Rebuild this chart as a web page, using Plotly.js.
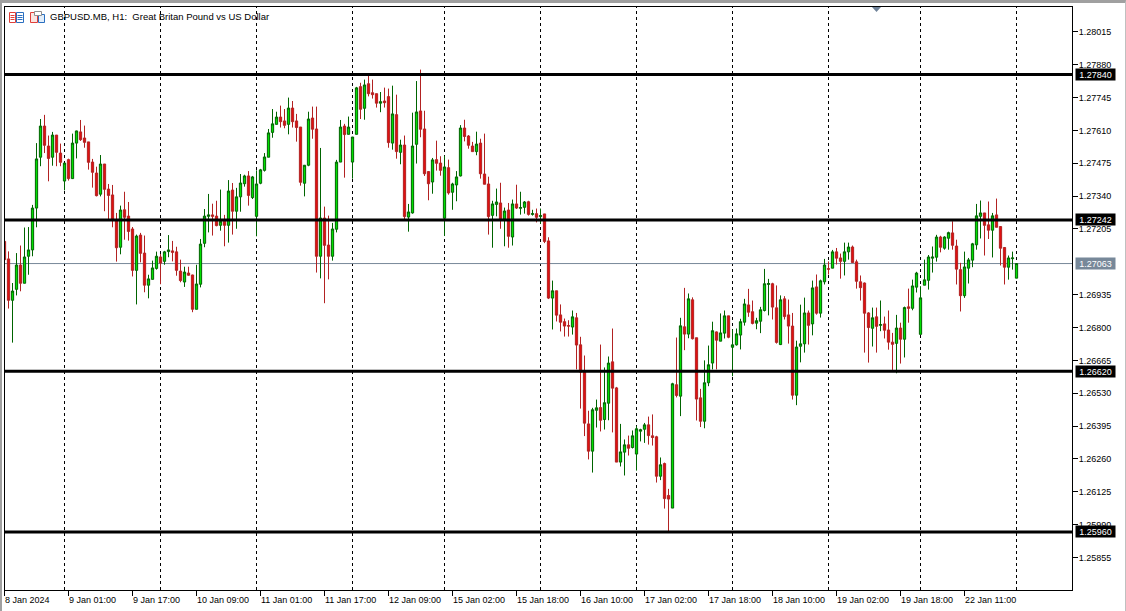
<!DOCTYPE html>
<html><head><meta charset="utf-8">
<script src="https://cdn.plot.ly/plotly-3.0.1.min.js"></script>
<style>html,body{margin:0;padding:0;background:#fff;overflow:hidden}#c{width:1126px;height:611px}
#f{position:absolute;left:0;top:0;width:1126px;height:611px;box-sizing:border-box;border-left:2px solid #a0a0a0;border-top:3px solid #a0a0a0;border-right:1px solid #c0c0c0;pointer-events:none}</style>
</head><body><div id="c"></div><div id="f"></div>
<script>
const opens=[1.27154,1.27082,1.26912,1.26957,1.27057,1.26982,1.27093,1.27119,1.27291,1.27500,
1.27628,1.27546,1.27500,1.27591,1.27517,1.27402,1.27490,1.27412,1.27558,1.27604,
1.27579,1.27563,1.27480,1.27435,1.27348,1.27472,1.27369,1.27345,1.27243,1.27130,
1.27284,1.27258,1.27205,1.27035,1.27180,1.27106,1.26974,1.26998,1.27043,1.27090,
1.27072,1.27112,1.27115,1.27111,1.27032,1.26987,1.27024,1.27016,1.26875,1.26978,
1.27146,1.27257,1.27263,1.27258,1.27220,1.27237,1.27220,1.27365,1.27278,1.27337,
1.27391,1.27423,1.27334,1.27257,1.27393,1.27446,1.27500,1.27602,1.27635,1.27665,
1.27649,1.27635,1.27702,1.27649,1.27624,1.27393,1.27467,1.27661,1.27616,1.27093,
1.27250,1.27139,1.27093,1.27204,1.27480,1.27628,1.27594,1.27480,1.27594,1.27790,
1.27701,1.27802,1.27765,1.27761,1.27722,1.27731,1.27749,1.27558,1.27675,1.27520,
1.27550,1.27254,1.27271,1.27553,1.27690,1.27616,1.27441,1.27398,1.27490,1.27476,
1.27249,1.27457,1.27356,1.27386,1.27423,1.27620,1.27587,1.27546,1.27523,1.27558,
1.27431,1.27390,1.27261,1.27306,1.27312,1.27246,1.27283,1.27172,1.27308,1.27290,
1.27294,1.27317,1.27265,1.27268,1.27256,1.27267,1.27156,1.26921,1.26951,1.26852,
1.26824,1.26808,1.26802,1.26840,1.26729,1.26617,1.26404,1.26292,1.26460,1.26471,
1.26422,1.26489,1.26659,1.26552,1.26247,1.26288,1.26318,1.26307,1.26280,1.26374,
1.26382,1.26400,1.26355,1.26351,1.26189,1.26241,1.26110,1.26058,1.26565,1.26518,
1.26803,1.26773,1.26914,1.26758,1.26511,1.26415,1.26573,1.26654,1.26782,1.26744,
1.26777,1.26848,1.26719,1.26729,1.26769,1.26822,1.26893,1.26865,1.26818,1.26826,
1.26870,1.26977,1.26980,1.26881,1.26730,1.26918,1.26852,1.26806,1.26522,1.26723,
1.26733,1.26860,1.26815,1.26967,1.26859,1.26988,1.27042,1.27044,1.27111,1.27086,
1.27072,1.27111,1.27131,1.27070,1.26988,1.26983,1.26860,1.26797,1.26844,1.26809,
1.26815,1.26790,1.26740,1.26735,1.26798,1.26752,1.26885,1.26879,1.26966,1.26772,
1.26974,1.26994,1.27085,1.27089,1.27172,1.27126,1.27167,1.27189,1.27135,1.27038,
1.26931,1.27044,1.27077,1.27140,1.27257,1.27271,1.27222,1.27200,1.27263,1.27215,1.27129,1.27048,1.27083,1.27003];
const closes=[1.27079,1.26912,1.26950,1.27057,1.26982,1.27090,1.27119,1.27291,1.27493,1.27628,
1.27549,1.27495,1.27591,1.27520,1.27479,1.27476,1.27412,1.27558,1.27608,1.27572,
1.27561,1.27479,1.27438,1.27342,1.27472,1.27368,1.27343,1.27243,1.27128,1.27283,
1.27253,1.27195,1.27035,1.27176,1.27105,1.26974,1.27000,1.27045,1.27093,1.27065,
1.27111,1.27119,1.27109,1.27035,1.26993,1.27028,1.27015,1.26875,1.26979,1.27143,
1.27258,1.27263,1.27257,1.27219,1.27237,1.27220,1.27361,1.27278,1.27337,1.27394,
1.27423,1.27343,1.27419,1.27390,1.27448,1.27501,1.27600,1.27637,1.27665,1.27646,
1.27631,1.27702,1.27646,1.27622,1.27397,1.27467,1.27657,1.27615,1.27093,1.27250,
1.27138,1.27093,1.27205,1.27480,1.27624,1.27593,1.27624,1.27583,1.27785,1.27697,
1.27797,1.27761,1.27757,1.27722,1.27728,1.27724,1.27560,1.27678,1.27523,1.27550,
1.27256,1.27275,1.27546,1.27686,1.27615,1.27432,1.27391,1.27489,1.27475,1.27446,
1.27460,1.27353,1.27390,1.27419,1.27620,1.27585,1.27549,1.27523,1.27554,1.27432,
1.27389,1.27256,1.27308,1.27316,1.27246,1.27279,1.27175,1.27308,1.27291,1.27293,
1.27316,1.27265,1.27268,1.27253,1.27260,1.27154,1.26921,1.26951,1.26851,1.26822,
1.26806,1.26806,1.26844,1.26728,1.26617,1.26407,1.26292,1.26462,1.26470,1.26419,
1.26491,1.26654,1.26551,1.26247,1.26289,1.26318,1.26304,1.26355,1.26384,1.26380,
1.26400,1.26356,1.26348,1.26189,1.26236,1.26097,1.26095,1.26569,1.26521,1.26807,
1.26773,1.26918,1.26754,1.26506,1.26415,1.26573,1.26647,1.26787,1.26748,1.26778,
1.26848,1.26760,1.26729,1.26774,1.26824,1.26897,1.26863,1.26817,1.26828,1.26873,
1.26980,1.26981,1.26884,1.26739,1.26914,1.26845,1.26806,1.26522,1.26720,1.26733,
1.26860,1.26809,1.26963,1.26859,1.26992,1.27057,1.27040,1.27111,1.27085,1.27072,
1.27111,1.27131,1.27067,1.26990,1.26964,1.26859,1.26800,1.26840,1.26805,1.26812,
1.26789,1.26740,1.26731,1.26798,1.26752,1.26882,1.26879,1.26971,1.27024,1.26922,
1.26996,1.27090,1.27090,1.27172,1.27130,1.27172,1.27190,1.27138,1.27040,1.26931,
1.27049,1.27078,1.27144,1.27259,1.27271,1.27220,1.27200,1.27259,1.27212,1.27126,1.27048,1.27086,1.27086,1.27063];
const highs=[1.27168,1.27113,1.26983,1.27106,1.27137,1.27211,1.27213,1.27304,1.27558,1.27657,
1.27674,1.27589,1.27604,1.27591,1.27556,1.27476,1.27494,1.27597,1.27609,1.27653,
1.27630,1.27563,1.27493,1.27461,1.27509,1.27472,1.27390,1.27386,1.27271,1.27301,
1.27358,1.27316,1.27213,1.27182,1.27189,1.27178,1.27017,1.27075,1.27112,1.27102,
1.27115,1.27180,1.27156,1.27132,1.27079,1.27050,1.27050,1.27017,1.27058,1.27164,
1.27287,1.27349,1.27309,1.27321,1.27367,1.27263,1.27406,1.27394,1.27374,1.27431,
1.27428,1.27443,1.27423,1.27446,1.27452,1.27517,1.27616,1.27698,1.27687,1.27712,
1.27698,1.27745,1.27731,1.27678,1.27624,1.27468,1.27687,1.27708,1.27708,1.27538,
1.27297,1.27260,1.27230,1.27489,1.27653,1.27637,1.27667,1.27583,1.27789,1.27806,
1.27819,1.27839,1.27819,1.27761,1.27768,1.27786,1.27782,1.27794,1.27757,1.27572,
1.27589,1.27308,1.27683,1.27813,1.27860,1.27691,1.27442,1.27497,1.27568,1.27504,
1.27506,1.27490,1.27395,1.27443,1.27632,1.27654,1.27591,1.27563,1.27605,1.27576,
1.27597,1.27420,1.27321,1.27371,1.27395,1.27293,1.27312,1.27326,1.27387,1.27358,
1.27320,1.27321,1.27284,1.27289,1.27289,1.27267,1.27171,1.26993,1.26951,1.26895,
1.26837,1.26830,1.26870,1.26860,1.26762,1.26685,1.26458,1.26470,1.26504,1.26730,
1.26636,1.26681,1.26796,1.26556,1.26404,1.26340,1.26356,1.26377,1.26395,1.26384,
1.26408,1.26434,1.26443,1.26355,1.26266,1.26245,1.26137,1.26573,1.26759,1.26840,
1.26963,1.26940,1.26924,1.26758,1.26548,1.26665,1.26726,1.26824,1.26784,1.26858,
1.26870,1.26848,1.26792,1.26796,1.26836,1.26918,1.26959,1.26911,1.26840,1.26885,
1.27041,1.27000,1.26984,1.26973,1.26932,1.26929,1.26915,1.26860,1.26746,1.26894,
1.26923,1.26870,1.26993,1.27018,1.26997,1.27082,1.27072,1.27119,1.27127,1.27104,
1.27149,1.27149,1.27137,1.27079,1.27014,1.26985,1.26863,1.26882,1.26882,1.26911,
1.26845,1.26870,1.26778,1.26852,1.26820,1.26886,1.26960,1.26997,1.27029,1.26970,
1.27079,1.27098,1.27133,1.27181,1.27177,1.27175,1.27194,1.27237,1.27161,1.27066,
1.27112,1.27086,1.27148,1.27308,1.27322,1.27271,1.27318,1.27271,1.27330,1.27216,1.27131,1.27096,1.27112,1.27064];
const lows=[1.27065,1.26878,1.26738,1.26932,1.26949,1.26982,1.27017,1.27093,1.27212,1.27463,
1.27517,1.27401,1.27465,1.27463,1.27463,1.27364,1.27404,1.27411,1.27495,1.27567,
1.27539,1.27449,1.27375,1.27339,1.27339,1.27278,1.27246,1.27212,1.27071,1.27101,
1.27161,1.27157,1.27010,1.26895,1.27068,1.26945,1.26920,1.26998,1.27038,1.26978,
1.27058,1.27089,1.27072,1.27013,1.26986,1.26967,1.27013,1.26863,1.26875,1.26965,
1.27130,1.27191,1.27178,1.27216,1.27198,1.27134,1.27149,1.27182,1.27206,1.27276,
1.27379,1.27301,1.27328,1.27175,1.27389,1.27441,1.27500,1.27580,1.27635,1.27622,
1.27619,1.27594,1.27622,1.27564,1.27383,1.27339,1.27463,1.27576,1.27026,1.27002,
1.26900,1.26998,1.27075,1.27191,1.27480,1.27416,1.27594,1.27412,1.27594,1.27657,
1.27654,1.27750,1.27741,1.27704,1.27685,1.27704,1.27539,1.27531,1.27494,1.27471,
1.27243,1.27194,1.27268,1.27474,1.27582,1.27423,1.27323,1.27350,1.27445,1.27424,
1.27176,1.27346,1.27284,1.27319,1.27421,1.27565,1.27535,1.27523,1.27508,1.27412,
1.27389,1.27182,1.27128,1.27257,1.27206,1.27134,1.27128,1.27137,1.27287,1.27264,
1.27268,1.27260,1.27260,1.27232,1.27226,1.27147,1.26917,1.26792,1.26825,1.26784,
1.26763,1.26763,1.26771,1.26628,1.26467,1.26354,1.26258,1.26204,1.26389,1.26373,
1.26381,1.26419,1.26369,1.26247,1.26229,1.26192,1.26274,1.26303,1.26212,1.26332,
1.26326,1.26319,1.26315,1.26163,1.26173,1.26056,1.25963,1.26058,1.26513,1.26436,
1.26707,1.26756,1.26751,1.26418,1.26391,1.26386,1.26559,1.26628,1.26628,1.26744,
1.26755,1.26756,1.26600,1.26726,1.26710,1.26808,1.26844,1.26813,1.26793,1.26777,
1.26866,1.26850,1.26833,1.26734,1.26728,1.26833,1.26734,1.26504,1.26481,1.26657,
1.26697,1.26730,1.26768,1.26853,1.26841,1.26977,1.27018,1.27044,1.27059,1.27001,
1.27014,1.27079,1.27066,1.26960,1.26911,1.26697,1.26656,1.26722,1.26697,1.26785,
1.26755,1.26709,1.26626,1.26612,1.26652,1.26677,1.26820,1.26871,1.26944,1.26772,
1.26974,1.26956,1.27026,1.27071,1.27109,1.27120,1.27120,1.27120,1.26977,1.26866,
1.26922,1.26981,1.27048,1.27120,1.27166,1.27096,1.27164,1.27088,1.27212,1.27055,1.26977,1.26997,1.27038,1.27003];

const levels=[1.27840,1.27242,1.26620,1.25960];
const lastPrice=1.27063;
const priceTicks=[1.28015,1.27880,1.27745,1.27610,1.27475,1.27340,1.27205,1.26935,1.26800,1.26665,1.26530,1.26395,1.26260,1.26125,1.25990,1.25855];
const timeTickBars=[0,16,32,48,64,80,96,112,128,144,160,176,192,208,224,240];
const timeTickLabels=["8 Jan 2024","9 Jan 01:00","9 Jan 17:00","10 Jan 09:00","11 Jan 01:00","11 Jan 17:00","12 Jan 09:00","15 Jan 02:00","15 Jan 18:00","16 Jan 10:00","17 Jan 02:00","17 Jan 18:00","18 Jan 10:00","19 Jan 02:00","19 Jan 18:00","22 Jan 11:00"];
const daySeparatorBars=[15,39,63,87,110,134,158,182,206,229,253];
const heading="GBPUSD.MB, H1:\u00a0\u00a0Great Britan Pound vs US Dollar";

const bars=opens.map((_,i)=>i);
const W=1126,H=611,L=5,R=1072,T=7,B=590;
const xStart=0.125,xEnd=266.875;
const px=x=>(x-L)/(R-L), py=y=>1-(y-T)/(B-T);
const FONT="Liberation Sans";
const txt={family:FONT,size:9,color:"#000"};

const shapes=[];
daySeparatorBars.forEach(b=>shapes.push({type:"line",layer:"below",xref:"x",yref:"paper",x0:b,x1:b,y0:0,y1:1,line:{color:"#000",width:1,dash:"3px,3px"}}));
shapes.push({type:"line",layer:"below",xref:"paper",yref:"y",x0:0,x1:1,y0:lastPrice,y1:lastPrice,line:{color:"#778899",width:1}});
levels.forEach(v=>shapes.push({type:"line",layer:"above",xref:"paper",yref:"y",x0:0,x1:1,y0:v,y1:v,line:{color:"#000",width:3}}));
// toolbar-style icons, first time tick and the chart-shift marker, placed in screen pixels
const pxRect=(a,b,c,d,color,fill)=>({type:"rect",xref:"paper",yref:"paper",x0:px(a),x1:px(c),y0:py(b),y1:py(d),line:{color,width:1},fillcolor:fill||"rgba(0,0,0,0)"});
const pxLine=(a,b,c,d,color)=>({type:"line",xref:"paper",yref:"paper",x0:px(a),x1:px(c),y0:py(b),y1:py(d),line:{color,width:1}});
shapes.push(pxRect(9.5,12.5,15.5,22.5,"#e0403a"),pxRect(16.5,12.5,23.5,22.5,"#2a6fc0"));
[15.5,17.5,19.5].forEach(y=>{shapes.push(pxLine(10.5,y,14.5,y,"#e0403a"),pxLine(17.5,y,22.5,y,"#2a6fc0"));});
shapes.push(pxRect(30.5,12.5,37.5,22.5,"#e0403a","#fbe4e0"),pxRect(38.5,14.5,44.5,22.5,"#2a6fc0","#e2eefa"),pxRect(34.5,11.5,41.5,15.5,"#909090","#fff"));
shapes.push(pxLine(4.5,590,4.5,596,"#000"));
shapes.push({type:"path",xref:"paper",yref:"paper",path:`M ${px(872)} ${py(7)} L ${px(881)} ${py(7)} L ${px(876.5)} ${py(12)} Z`,fillcolor:"#6f8299",line:{width:0}});

const annotations=[];
annotations.push({xref:"paper",yref:"paper",x:px(49),y:py(17),xanchor:"left",yanchor:"middle",text:heading,showarrow:false,font:{family:FONT,size:9.5,color:"#000"},borderpad:0});
timeTickBars.forEach((b,i)=>annotations.push({xref:"x",yref:"paper",x:Math.max(b,xStart),y:py(600),xanchor:"left",yanchor:"middle",text:timeTickLabels[i],showarrow:false,font:txt,borderpad:0,xshift:-1}));
const tag=(v,bg)=>({xref:"paper",yref:"y",x:px(1075),y:v,xanchor:"left",yanchor:"middle",text:v.toFixed(5),showarrow:false,width:39,height:11,align:"center",bgcolor:bg,borderpad:0,font:{family:FONT,size:9,color:"#fff"}});
levels.forEach(v=>annotations.push(tag(v,"#000")));
annotations.push(tag(lastPrice,"#778899"));

const trace={type:"candlestick",x:bars,open:opens,high:highs,low:lows,close:closes,
 increasing:{line:{color:"#006400",width:1},fillcolor:"#00E000"},
 decreasing:{line:{color:"#B22222",width:1},fillcolor:"#E01010"},
 hoverinfo:"skip",showlegend:false};

const layout={width:W,height:H,margin:{l:L,r:W-R,t:T,b:H-B,pad:0},paper_bgcolor:"#fff",plot_bgcolor:"#fff",
 showlegend:false,shapes,annotations,hovermode:false,boxgap:0.25,boxgroupgap:0.25,
 xaxis:{type:"linear",range:[xStart,xEnd],rangeslider:{visible:false},showgrid:false,zeroline:false,showline:true,mirror:true,linecolor:"#000",linewidth:1,
  tickmode:"array",tickvals:timeTickBars,ticktext:timeTickBars.map(()=>" "),ticks:"outside",ticklen:5,tickcolor:"#000",tickwidth:1},
 yaxis:{side:"right",range:[1.257214,1.281173],showgrid:false,zeroline:false,showline:true,mirror:true,linecolor:"#000",linewidth:1,
  tickmode:"array",tickvals:priceTicks,ticktext:priceTicks.map(v=>v.toFixed(5)),ticks:"outside",ticklen:5,tickcolor:"#000",tickwidth:1,tickfont:txt,ticklabelstandoff:-1}};
Plotly.newPlot("c",[trace],layout,{staticPlot:true,displayModeBar:false});
</script></body></html>
